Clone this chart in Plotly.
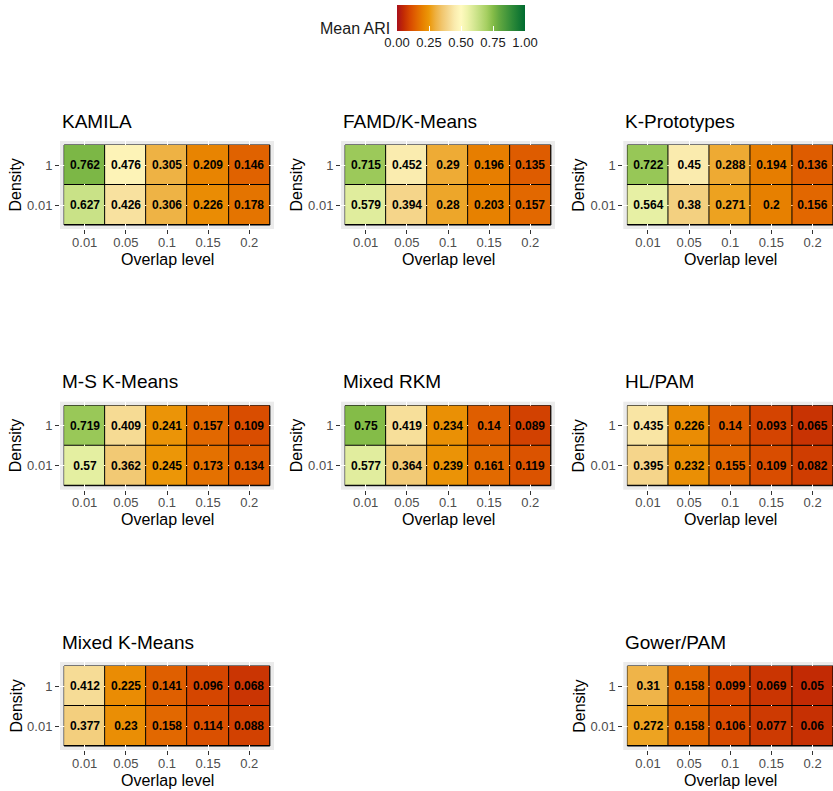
import plotly.graph_objects as go

# ---------------- data ----------------
overlap_levels = ["0.01", "0.05", "0.1", "0.15", "0.2"]
density_levels = ["0.01", "1"]

method_names = ["KAMILA", "FAMD/K-Means", "K-Prototypes", "M-S K-Means",
                "Mixed RKM", "HL/PAM", "Mixed K-Means", "Gower/PAM"]

kamila_d1 = [0.762, 0.476, 0.305, 0.209, 0.146]
kamila_d001 = [0.627, 0.426, 0.306, 0.226, 0.178]
famd_d1 = [0.715, 0.452, 0.29, 0.196, 0.135]
famd_d001 = [0.579, 0.394, 0.28, 0.203, 0.157]
kproto_d1 = [0.722, 0.45, 0.288, 0.194, 0.136]
kproto_d001 = [0.564, 0.38, 0.271, 0.2, 0.156]
mskm_d1 = [0.719, 0.409, 0.241, 0.157, 0.109]
mskm_d001 = [0.57, 0.362, 0.245, 0.173, 0.134]
rkm_d1 = [0.75, 0.419, 0.234, 0.14, 0.089]
rkm_d001 = [0.577, 0.364, 0.239, 0.161, 0.119]
hlpam_d1 = [0.435, 0.226, 0.14, 0.093, 0.065]
hlpam_d001 = [0.395, 0.232, 0.155, 0.109, 0.082]
mixkm_d1 = [0.412, 0.225, 0.141, 0.096, 0.068]
mixkm_d001 = [0.377, 0.23, 0.158, 0.114, 0.088]
gower_d1 = [0.31, 0.158, 0.099, 0.069, 0.05]
gower_d001 = [0.272, 0.158, 0.106, 0.077, 0.06]

series_d1 = [kamila_d1, famd_d1, kproto_d1, mskm_d1, rkm_d1, hlpam_d1, mixkm_d1, gower_d1]
series_d001 = [kamila_d001, famd_d001, kproto_d001, mskm_d001, rkm_d001,
               hlpam_d001, mixkm_d001, gower_d001]

legend_ticks = [0, 0.25, 0.5, 0.75, 1]
legend_ticktext = ["0.00", "0.25", "0.50", "0.75", "1.00"]

# ---------------- style ----------------
W, H = 833, 791
FONT = "Liberation Sans, Arial, sans-serif"
colorscale = [
    [0.00, "#A8101C"], [0.05, "#C22A04"], [0.10, "#D74800"], [0.15, "#E16400"],
    [0.20, "#E78000"], [0.25, "#EC9808"], [0.30, "#EEB040"], [0.35, "#F1C56C"],
    [0.40, "#F5D78E"], [0.45, "#FAEBAE"], [0.50, "#FFFABF"], [0.55, "#EEF3AA"],
    [0.60, "#D6E894"], [0.65, "#BEDC7C"], [0.70, "#A6CF62"], [0.75, "#84BC48"],
    [0.80, "#62A840"], [0.90, "#2E8A38"], [1.00, "#006B30"],
]

slots = [(0, 0), (0, 1), (0, 2), (1, 0), (1, 1), (1, 2), (2, 0), (2, 2)]
col_left = [60.0, 341.0, 623.3]
row_top = [141.0, 401.7, 662.0]
pw, ph = 214.0, 88.0
nx, ny = len(overlap_levels), len(density_levels)
ux = pw / (nx + 0.2)

fig = go.Figure()
layout = dict(
    width=W, height=H,
    margin=dict(l=0, r=0, t=0, b=0),
    paper_bgcolor="white",
    plot_bgcolor="#EBEBEB",
    font=dict(family=FONT, color="black"),
    showlegend=False,
    coloraxis=dict(
        colorscale=colorscale, cmin=0, cmax=1,
        colorbar=dict(
            orientation="h", x=461 / W, xanchor="center",
            y=1 - 5 / H, yanchor="top",
            len=128, lenmode="pixels", thickness=26, thicknessmode="pixels",
            outlinewidth=0, xpad=0, ypad=0,
            tickvals=legend_ticks, ticktext=legend_ticktext,
            ticks="inside", tickcolor="white", ticklen=5, tickwidth=1,
            tickfont=dict(size=13, color="#1A1A1A", family=FONT),
        ),
    ),
)
annotations = []
shapes = []

for i, (name, d1, d001, (r, c)) in enumerate(zip(method_names, series_d1, series_d001, slots)):
    k = "" if i == 0 else str(i + 1)
    left = col_left[c]
    right = min(left + pw, W)
    top = row_top[r]
    xdom = [left / W, right / W]
    ydom = [1 - (top + ph) / H, 1 - top / H]
    xr = [-0.6, -0.6 + (right - left) / ux]
    z = [d001, d1]
    txt = [[str(v) for v in row] for row in z]
    fig.add_trace(go.Heatmap(
        x=overlap_levels, y=density_levels, z=z, text=txt,
        texttemplate="%{text}",
        textfont=dict(size=12, color="black", family=FONT, weight="bold"),
        coloraxis="coloraxis", xgap=1, ygap=1,
        xaxis="x" + k, yaxis="y" + k, hoverinfo="skip",
    ))
    axcommon = dict(
        type="category", showgrid=True, gridcolor="white", gridwidth=1,
        zeroline=False, showline=False, ticks="outside", ticklen=4,
        tickcolor="#333333", tickwidth=1,
        tickfont=dict(size=13, color="#4D4D4D", family=FONT),
        automargin=False, fixedrange=True,
    )
    layout["xaxis" + k] = dict(axcommon, domain=xdom, range=xr, anchor="y" + k,
                               ticklabelstandoff=-3)
    layout["yaxis" + k] = dict(axcommon, domain=ydom, range=[-0.6, ny - 0.4], anchor="x" + k)
    # black cell borders showing through the heatmap gaps
    shapes.append(dict(
        type="rect", xref="x" + k, yref="y" + k,
        x0=-0.5, x1=nx - 0.5, y0=-0.5, y1=ny - 0.5,
        fillcolor="black", line=dict(color="black", width=1), layer="below",
    ))
    # panel title
    annotations.append(dict(
        text=name, xref="paper", yref="paper", x=left / W, y=1 - (top - 20) / H,
        xanchor="left", yanchor="middle", showarrow=False,
        font=dict(size=19, color="black", family=FONT),
    ))
    # x axis title
    cx = left + pw / 2
    annotations.append(dict(
        text="Overlap level", xref="paper", yref="paper", x=cx / W,
        y=1 - (top + ph + 30) / H, xanchor="center", yanchor="middle",
        showarrow=False, font=dict(size=16, color="black", family=FONT),
    ))
    # y axis title
    annotations.append(dict(
        text="Density", xref="paper", yref="paper", x=(left - 44.5) / W,
        y=1 - (top + ph / 2) / H, xanchor="center", yanchor="middle",
        textangle=-90, showarrow=False,
        font=dict(size=16, color="black", family=FONT),
    ))

annotations.append(dict(
    text="Mean ARI", xref="paper", yref="paper", x=392 / W, y=1 - 29 / H,
    xanchor="right", yanchor="middle", showarrow=False,
    font=dict(size=16, color="#1A1A1A", family=FONT),
))

layout["annotations"] = annotations
layout["shapes"] = shapes
fig.update_layout(**layout)
fig.write_html(
    "out.html",
    config={"displayModeBar": False},
    post_script="document.body.style.margin='0';document.body.style.overflow='hidden';",
)
